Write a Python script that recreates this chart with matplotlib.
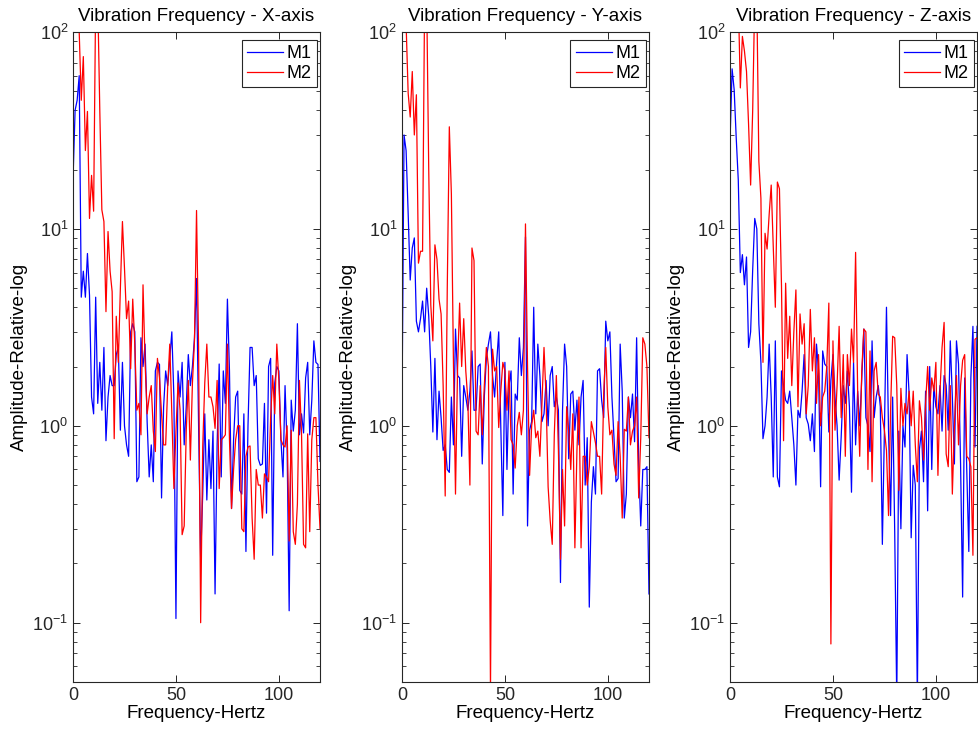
import numpy as np
import matplotlib
matplotlib.use('Agg')
import matplotlib.pyplot as plt

plt.rcParams['font.family'] = ['Liberation Sans', 'DejaVu Sans']

###############################################################################
# Spectra, one value per Hz (0 ... 120 Hz)

freq = np.arange(0, 121)

x_m1 = [18, 40, 45, 60, 4.5, 6.1, 4.5, 7.5, 4.6, 1.4,
        1.15, 4.5, 1.3, 2.1, 1.2, 2.5, 0.84, 1.4, 1.8, 1.6,
        1.6, 2.3, 2.5, 0.95, 2.1, 1.0, 0.8, 0.7, 3.0, 3.3,
        3.0, 0.52, 0.55, 2.8, 2.0, 2.6, 1.05, 0.55, 0.8, 0.52,
        1.9, 2.1, 2.05, 0.43, 1.25, 1.9, 1.6, 2.2, 3.0, 1.4,
        0.105, 1.9, 1.4, 2.1, 0.8, 1.25, 2.3, 1.6, 2.0, 2.8,
        5.6, 1.0, 0.21, 0.45, 1.15, 0.42, 0.85, 0.48, 0.94, 0.14,
        0.8, 2.06, 0.55, 1.9, 1.3, 4.4, 1.9, 0.38, 0.85, 1.4,
        1.5, 0.47, 0.45, 1.15, 0.23, 1.0, 2.5, 2.5, 1.6, 1.8,
        0.68, 0.63, 0.64, 1.3, 0.36, 2.0, 2.2, 0.22, 1.65, 2.0,
        1.9, 0.85, 0.55, 1.6, 0.78, 0.115, 1.35, 0.94, 1.2, 3.3,
        0.9, 1.15, 0.92, 1.75, 2.1, 0.9, 1.35, 2.7, 2.1, 2.05,
        0.66]
x_m2 = [150, 150, 130, 100, 45, 75, 25, 39.5, 11.3, 18.7,
        12.3, 150, 150, 40, 12.5, 10.9, 3.8, 9.7, 6.1, 4.8,
        0.86, 3.6, 2.1, 5.0, 10.9, 6.3, 3.5, 4.3, 1.95, 4.4,
        2.6, 1.2, 1.3, 0.9, 5.2, 2.1, 1.15, 1.4, 1.6, 0.94,
        0.74, 2.2, 1.75, 1.15, 0.8, 0.8, 1.6, 2.6, 1.15, 0.48,
        0.94, 1.65, 1.2, 0.28, 0.31, 0.94, 1.7, 0.67, 1.65, 2.7,
        12.4, 2.5, 0.1, 0.78, 1.65, 2.6, 1.4, 1.4, 1.25, 0.97,
        1.7, 0.48, 0.85, 0.87, 0.9, 2.6, 0.85, 0.38, 0.6, 0.85,
        1.0, 1.0, 0.3, 0.29, 0.7, 0.78, 0.79, 0.34, 0.21, 0.6,
        0.5, 0.5, 0.34, 0.57, 0.55, 0.52, 1.1, 1.8, 1.15, 2.6,
        1.7, 0.85, 0.8, 0.78, 1.0, 0.26, 0.95, 0.29, 0.25, 0.4,
        1.7, 0.92, 0.25, 0.24, 0.91, 0.29, 0.85, 1.1, 1.1, 0.5,
        0.3]

y_m1 = [1.2, 30, 25, 12, 5.5, 8, 9, 3.4, 3.0, 3.5,
        4.3, 3.0, 5.0, 3.6, 2.0, 0.93, 2.2, 0.85, 1.5, 1.1,
        0.75, 0.8, 0.6, 0.58, 1.4, 0.8, 3.1, 1.8, 1.75, 0.7,
        1.6, 1.4, 1.2, 1.5, 2.4, 1.2, 1.2, 2.0, 2.06, 0.64,
        1.4, 2.2, 2.6, 3.0, 1.8, 1.4, 2.1, 3.0, 1.0, 0.35,
        2.1, 0.6, 1.6, 1.9, 0.45, 1.45, 1.35, 2.8, 1.8, 2.5,
        9.1, 0.31, 0.95, 1.05, 4.0, 1.15, 2.6, 1.8, 1.05, 1.15,
        1.7, 1.0, 1.8, 2.0, 1.25, 1.4, 1.2, 0.16, 1.2, 2.6,
        2.0, 0.68, 1.45, 1.5, 0.95, 1.35, 0.8, 1.4, 1.7, 0.5,
        0.87, 0.12, 0.41, 0.62, 0.45, 1.9, 1.95, 1.35, 1.1, 3.4,
        2.7, 3.0, 1.4, 0.87, 0.52, 0.54, 2.6, 1.5, 0.34, 0.45,
        1.4, 1.1, 1.45, 0.83, 2.8, 0.64, 0.31, 0.6, 0.6, 0.62,
        0.14]
y_m2 = [150, 130, 110, 49, 37, 63, 30, 48, 6.7, 7.7,
        7.7, 150, 150, 20, 4.1, 2.7, 8.3, 7.0, 4.4, 3.7,
        1.6, 0.44, 5.0, 33, 15, 2.1, 0.45, 1.95, 4.2, 2.0,
        3.5, 1.9, 1.35, 0.5, 8.0, 6.9, 0.94, 0.9, 1.6, 0.9,
        1.6, 2.5, 2.0, 0.045, 2.45, 1.9, 2.0, 0.98, 1.5, 2.1,
        1.9, 1.2, 1.9, 0.85, 0.8, 0.61, 1.0, 1.17, 0.9, 1.2,
        10.6, 2.0, 0.56, 1.0, 1.2, 0.87, 0.94, 0.7, 1.3, 2.5,
        1.4, 0.49, 0.33, 0.25, 0.9, 1.8, 0.75, 0.21, 0.6, 0.31,
        1.25, 0.94, 0.6, 1.15, 0.24, 0.75, 1.4, 0.24, 0.7, 0.7,
        0.5, 0.62, 1.05, 0.93, 0.82, 0.7, 0.7, 0.45, 1.45, 2.5,
        1.25, 0.9, 0.95, 0.64, 0.56, 1.05, 0.7, 0.34, 0.96, 0.94,
        1.4, 0.8, 0.94, 1.0, 1.4, 0.43, 0.87, 2.8, 2.6, 2.0,
        0.87]

z_m1 = [28, 65, 51, 29, 17.7, 6, 7.4, 5.2, 7.2, 2.5,
        3.0, 6.2, 11.3, 10, 3.3, 2.1, 0.86, 1.0, 1.4, 2.6,
        1.4, 0.55, 2.7, 0.55, 0.49, 1.9, 1.6, 1.35, 1.3, 1.5,
        1.1, 0.8, 0.5, 1.2, 1.1, 1.5, 2.3, 1.1, 1.02, 0.84,
        1.15, 0.74, 2.6, 1.9, 0.49, 2.4, 2.06, 2.0, 0.93, 1.7,
        2.3, 1.4, 1.0, 0.53, 0.88, 1.6, 1.3, 1.9, 1.25, 0.46,
        2.1, 0.8, 1.5, 1.0, 1.75, 3.1, 1.1, 1.0, 0.74, 2.7,
        1.1, 1.4, 1.6, 1.25, 0.25, 0.95, 4.0, 0.94, 0.35, 1.4,
        0.29, 0.04, 0.94, 0.3, 1.0, 0.78, 2.3, 1.45, 0.27, 0.63,
        0.5, 0.04, 0.76, 0.94, 0.52, 1.5, 0.37, 2.0, 0.6, 1.6,
        1.25, 1.15, 1.6, 0.94, 1.8, 1.6, 0.95, 2.7, 1.4, 0.64,
        2.7, 2.06, 0.64, 0.135, 1.75, 0.6, 0.23, 1.75, 3.2, 0.78,
        3.2]
z_m2 = [150, 150, 150, 150, 150, 52, 95, 80, 63, 34,
        16.7, 40, 150, 150, 22, 14.3, 2.1, 9.5, 7.9, 11.8,
        16.7, 8.1, 4.0, 17.3, 16, 5.1, 0.84, 5.3, 2.2, 3.6,
        1.6, 3.0, 4.9, 1.25, 3.7, 2.6, 3.3, 1.15, 1.6, 3.9,
        1.9, 2.8, 1.3, 2.3, 1.0, 1.4, 1.5, 2.0, 4.2, 0.078,
        2.7, 0.95, 1.6, 3.2, 1.1, 2.3, 0.7, 2.3, 1.6, 3.1,
        2.1, 7.6, 1.5, 0.7, 1.9, 3.1, 3.0, 0.6, 2.4, 0.52,
        1.9, 2.1, 1.45, 1.4, 1.1, 0.95, 0.75, 0.35, 1.2, 2.85,
        2.8, 1.6, 0.47, 1.55, 1.0, 1.3, 1.15, 1.5, 1.0, 1.5,
        0.8, 0.52, 1.34, 1.1, 0.67, 1.3, 2.0, 1.2, 1.75, 1.5,
        2.1, 0.56, 1.5, 2.5, 3.35, 0.72, 0.62, 1.6, 0.45, 1.0,
        1.8, 0.8, 1.6, 2.15, 2.3, 0.7, 0.68, 0.62, 0.22, 2.75,
        2.8]

titles = ['Vibration Frequency - X-axis',
          'Vibration Frequency - Y-axis',
          'Vibration Frequency - Z-axis']
series = [(x_m1, x_m2), (y_m1, y_m2), (z_m1, z_m2)]

###############################################################################
# Three log-scale panels, MATLAB look

fig = plt.figure(figsize=(9.79, 7.29), dpi=100)
lefts = [0.0746, 0.4106, 0.7457]
axis_col = '#262626'

for left, title, (m1, m2) in zip(lefts, titles, series):
    ax = fig.add_axes([left, 0.0645, 0.2523, 0.8916])
    ax.plot(freq, m1, color='#0000ff', lw=0.9, label='M1')
    ax.plot(freq, m2, color='#ff0000', lw=0.9, label='M2')
    ax.set_yscale('log')
    ax.set_xlim(0, 120)
    ax.set_ylim(0.05, 100)
    ax.set_xticks([0, 50, 100])
    ax.tick_params(which='both', direction='in', top=True, right=True,
                   color=axis_col, labelcolor=axis_col, labelsize=13)
    ax.tick_params(which='major', length=5, width=0.7)
    ax.tick_params(which='minor', length=3, width=0.6)
    for sp in ax.spines.values():
        sp.set_color(axis_col)
        sp.set_linewidth(0.8)
    ax.set_title(title, fontsize=13.5, pad=8)
    ax.set_xlabel('Frequency-Hertz', fontsize=13.5, labelpad=1)
    ax.set_ylabel('Amplitude-Relative-log', fontsize=13.5, labelpad=3)
    leg = ax.legend(loc='upper right', bbox_to_anchor=(0.988, 0.988),
                    borderaxespad=0, fontsize=13, fancybox=False,
                    edgecolor=axis_col, framealpha=1, borderpad=0.3,
                    labelspacing=0.15, handlelength=2.0, handletextpad=0.2)
    leg.get_frame().set_linewidth(0.8)

fig.savefig('out.png', dpi=100)
